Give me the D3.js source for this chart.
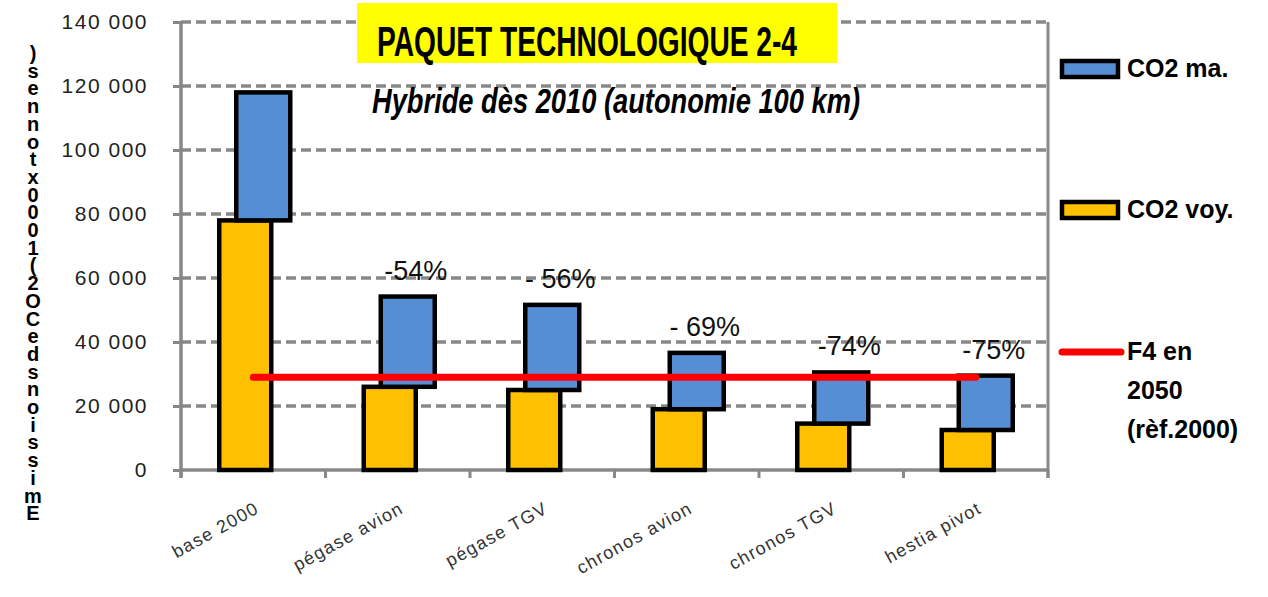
<!DOCTYPE html>
<html>
<head>
<meta charset="utf-8">
<script src="https://cdn.jsdelivr.net/npm/d3@7"></script>
<style>
  body { margin: 0; background: #fff; }
  svg { display: block; font-family: "Liberation Sans", Arial, sans-serif; }
</style>
</head>
<body>
<svg class="chart"></svg>
<script>
const categories = ["base 2000", "pégase avion", "pégase TGV", "chronos avion", "chronos TGV", "hestia pivot"];
const co2Voy = [78000, 26000, 25000, 19000, 14500, 12500];
const co2Ma = [40000, 28200, 26600, 17600, 16000, 17000];
const pctLabels = ["", "-54%", "- 56%", "- 69%", "-74%", "-75%"];
const f4Target = 29000;
const yTicks = [0, 20000, 40000, 60000, 80000, 100000, 120000, 140000];
const yTickLabels = ["0", "20 000", "40 000", "60 000", "80 000", "100 000", "120 000", "140 000"];
const yTitle = "Emissions de CO2 (1000x tonnes)";
const legendItems = [
  { key: "ma", label: ["CO2 ma."], color: "#558ED5" },
  { key: "voy", label: ["CO2 voy."], color: "#FFC000" },
  { key: "f4", label: ["F4 en", "2050", "(rèf.2000)"], color: "#FF0000" }
];

const width = 1268, height = 597;
const margin = { top: 22, right: 220, bottom: 127, left: 181 };
const innerW = width - margin.left - margin.right;
const innerH = height - margin.top - margin.bottom;

const svg = d3.select(".chart").attr("width", width).attr("height", height);
const g = svg.append("g").attr("transform", `translate(${margin.left},${margin.top})`);

const x = d3.scaleBand().domain(categories).range([0, innerW]);
const y = d3.scaleLinear().domain([0, 140000]).range([innerH, 0]);
const cx = d => x(d) + x.bandwidth() / 2;

// dashed gridlines
g.selectAll(".grid")
  .data(yTicks.filter(t => t > 0))
  .enter().append("line")
    .attr("x1", 0).attr("x2", innerW)
    .attr("y1", d => y(d)).attr("y2", d => y(d))
    .attr("stroke", "#888").attr("stroke-width", 3.5)
    .attr("stroke-dasharray", "10,5");

// right border
g.append("line")
  .attr("x1", innerW).attr("x2", innerW)
  .attr("y1", 0).attr("y2", innerH + 8)
  .attr("stroke", "#888").attr("stroke-width", 3);

// y axis
const yAxis = g.append("g")
  .call(d3.axisLeft(y).tickValues(yTicks).tickSize(8).tickPadding(25)
    .tickFormat((d, i) => yTickLabels[i]));
yAxis.select(".domain").attr("stroke", "#888").attr("stroke-width", 3.5)
  .attr("d", `M0,0V${innerH + 8}`);
yAxis.selectAll(".tick line").attr("stroke", "#888").attr("stroke-width", 3);
yAxis.selectAll(".tick text")
  .attr("fill", "#222").attr("font-size", 21).attr("letter-spacing", 1.5)
  .attr("font-family", "'Liberation Sans', Arial, sans-serif");

// x axis
const xAxis = g.append("g").attr("transform", `translate(0,${innerH})`);
xAxis.append("line").attr("x1", 0).attr("x2", innerW)
  .attr("stroke", "#888").attr("stroke-width", 3.5);
xAxis.selectAll(".xt")
  .data(d3.range(categories.length + 1))
  .enter().append("line")
    .attr("x1", d => d * x.step()).attr("x2", d => d * x.step())
    .attr("y1", 0).attr("y2", 8)
    .attr("stroke", "#888").attr("stroke-width", 3);

xAxis.selectAll(".xl")
  .data(categories)
  .enter().append("text")
    .attr("transform", d => `translate(${cx(d) + 7},${42}) rotate(-29)`)
    .attr("text-anchor", "end")
    .attr("font-size", 18)
    .attr("letter-spacing", 1.3)
    .attr("fill", "#333")
    .text(d => d);

// bars: voyageurs (left, yellow), then marchandises stacked (right, blue)
g.selectAll(".voy")
  .data(categories)
  .enter().append("rect")
    .attr("x", d => cx(d) - 34)
    .attr("width", 52)
    .attr("y", (d, i) => y(co2Voy[i]))
    .attr("height", (d, i) => innerH - y(co2Voy[i]))
    .attr("fill", "#FFC000").attr("stroke", "#000").attr("stroke-width", 4.5);

g.selectAll(".ma")
  .data(categories)
  .enter().append("rect")
    .attr("x", d => cx(d) - 17)
    .attr("width", 54)
    .attr("y", (d, i) => y(co2Voy[i] + co2Ma[i]))
    .attr("height", (d, i) => y(co2Voy[i]) - y(co2Voy[i] + co2Ma[i]))
    .attr("fill", "#558ED5").attr("stroke", "#000").attr("stroke-width", 4.5);

// F4 target line
g.append("line")
  .attr("x1", cx(categories[0])).attr("x2", cx(categories[categories.length - 1]))
  .attr("y1", y(f4Target)).attr("y2", y(f4Target))
  .attr("stroke", "#FF0000").attr("stroke-width", 7).attr("stroke-linecap", "round");

// reduction labels
g.selectAll(".pct")
  .data(categories)
  .enter().append("text")
    .attr("x", d => cx(d) + 18)
    .attr("y", (d, i) => y(co2Voy[i] + co2Ma[i]) - 17)
    .attr("text-anchor", "middle")
    .attr("font-size", 27)
    .attr("fill", "#111")
    .text((d, i) => pctLabels[i]);

// title box
svg.append("rect")
  .attr("x", 357).attr("y", 3).attr("width", 480).attr("height", 60)
  .attr("fill", "#FFFF00");
svg.append("text")
  .attr("x", 377).attr("y", 56)
  .attr("font-size", 43).attr("font-weight", "bold")
  .attr("textLength", 420).attr("lengthAdjust", "spacingAndGlyphs")
  .text("PAQUET TECHNOLOGIQUE 2-4");
svg.append("text")
  .attr("x", 372).attr("y", 113)
  .attr("font-size", 35).attr("font-weight", "bold").attr("font-style", "italic")
  .attr("textLength", 488).attr("lengthAdjust", "spacingAndGlyphs")
  .text("Hybride dès 2010 (autonomie 100 km)");

// y axis title, characters stacked upright from bottom to top
svg.append("text")
  .attr("x", 33).attr("y", 42)
  .attr("font-size", 20).attr("font-weight", "bold")
  .style("writing-mode", "vertical-rl")
  .style("text-orientation", "upright")
  .attr("letter-spacing", -4.3)
  .text(yTitle.replace(/ /g, "").split("").reverse().join(""));

// legend
const legendY = [69, 210, 352];
const lg = svg.append("g");
legendItems.forEach((item, i) => {
  const ly = legendY[i];
  if (item.key === "f4") {
    lg.append("line").attr("x1", 1062).attr("x2", 1121).attr("y1", ly).attr("y2", ly)
      .attr("stroke", item.color).attr("stroke-width", 7).attr("stroke-linecap", "round");
  } else {
    lg.append("rect").attr("x", 1062).attr("y", ly - 8).attr("width", 56).attr("height", 16)
      .attr("fill", item.color).attr("stroke", "#000").attr("stroke-width", 4.5);
  }
  lg.append("text")
    .attr("font-size", 25).attr("font-weight", "bold").attr("fill", "#000")
    .selectAll("tspan").data(item.label).enter().append("tspan")
      .attr("x", 1127)
      .attr("y", (d, j) => ly + 8 + j * 39)
      .text(d => d);
});
</script>
</body>
</html>
